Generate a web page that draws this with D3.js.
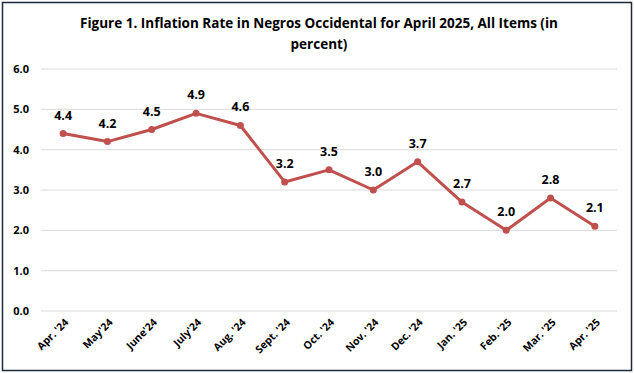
<!DOCTYPE html>
<html>
<head>
<meta charset="utf-8">
<script src="https://cdn.jsdelivr.net/npm/d3@7"></script>
<style>
  body { margin: 0; background: #fff; }
  svg { display: block; font-family: "Open Sans", "Noto Sans", sans-serif; }
</style>
</head>
<body>
<div id="chart"></div>
<script>
// months and inflation rate (percent)
const months = ["Apr. '24", "May'24", "June'24", "July'24", "Aug. '24", "Sept. '24", "Oct. '24",
    "Nov. '24", "Dec. '24", "Jan. '25", "Feb. '25", "Mar. '25", "Apr. '25"];
const rates = [4.4, 4.2, 4.5, 4.9, 4.6, 3.2, 3.5, 3.0, 3.7, 2.7, 2.0, 2.8, 2.1];
const yTicks = [0, 1, 2, 3, 4, 5, 6];

const W = 634, H = 373;
const margin = { top: 69, right: 17, bottom: 62, left: 41 };
const width = W - margin.left - margin.right;
const height = H - margin.top - margin.bottom;

const svg = d3.select("#chart").append("svg")
    .attr("width", W)
    .attr("height", H);

// outer frame
svg.append("rect")
    .attr("x", 2.5).attr("y", 2.5)
    .attr("width", W - 5).attr("height", H - 5)
    .attr("fill", "#fff")
    .attr("stroke", "#1f2a36")
    .attr("stroke-width", 1.5);

// title
const title = svg.append("text")
    .attr("text-anchor", "middle")
    .attr("font-size", 13.5)
    .attr("font-weight", "bold")
    .attr("fill", "#000");
title.append("tspan").attr("x", 319).attr("y", 28)
    .text("Figure 1. Inflation Rate in Negros Occidental for April 2025, All Items (in");
title.append("tspan").attr("x", 319).attr("y", 49)
    .text("percent)");

const g = svg.append("g").attr("transform", "translate(" + margin.left + "," + margin.top + ")");

const x = d3.scaleBand().domain(months).range([0, width]);
const y = d3.scaleLinear().domain([0, 6]).range([height, 0]);

// gridlines
g.selectAll(".grid")
    .data(yTicks)
    .join("line")
    .attr("class", "grid")
    .attr("x1", 0).attr("x2", width)
    .attr("y1", d => y(d)).attr("y2", d => y(d))
    .attr("stroke", "#d9d9d9")
    .attr("stroke-width", 1);

// y axis labels
const yAxis = g.append("g")
    .call(d3.axisLeft(y).tickValues(yTicks).tickFormat(d3.format(".1f")).tickSize(0).tickPadding(12));
yAxis.select(".domain").remove();
yAxis.selectAll("text")
    .attr("font-size", 11)
    .attr("font-weight", "bold")
    .attr("fill", "#000")
    .attr("font-family", "Open Sans, sans-serif");

// x axis labels
const xAxis = g.append("g")
    .attr("transform", "translate(0," + height + ")")
    .call(d3.axisBottom(x).tickSize(0).tickPadding(0));
xAxis.select(".domain").remove();
xAxis.selectAll("text")
    .attr("font-size", 10.5)
    .attr("font-weight", "bold")
    .attr("fill", "#000")
    .attr("font-family", "Open Sans, sans-serif")
    .attr("text-anchor", "end")
    .attr("dy", 0)
    .attr("transform", "translate(6,12) rotate(-45)");

const cx = d => x(d) + x.bandwidth() / 2;

// line
const line = d3.line()
    .x((d, i) => cx(months[i]))
    .y(d => y(d));

g.append("path")
    .datum(rates)
    .attr("d", line)
    .attr("fill", "none")
    .attr("stroke", "#c0504d")
    .attr("stroke-width", 3)
    .attr("stroke-linejoin", "round");

g.selectAll(".dot")
    .data(rates)
    .join("circle")
    .attr("class", "dot")
    .attr("cx", (d, i) => cx(months[i]))
    .attr("cy", d => y(d))
    .attr("r", 3.5)
    .attr("fill", "#c0504d");

// data labels
g.selectAll(".lbl")
    .data(rates)
    .join("text")
    .attr("class", "lbl")
    .attr("x", (d, i) => cx(months[i]))
    .attr("y", d => y(d) - 14)
    .attr("text-anchor", "middle")
    .attr("font-size", 12.5)
    .attr("font-weight", "bold")
    .attr("fill", "#000")
    .text(d => d.toFixed(1));
</script>
</body>
</html>
